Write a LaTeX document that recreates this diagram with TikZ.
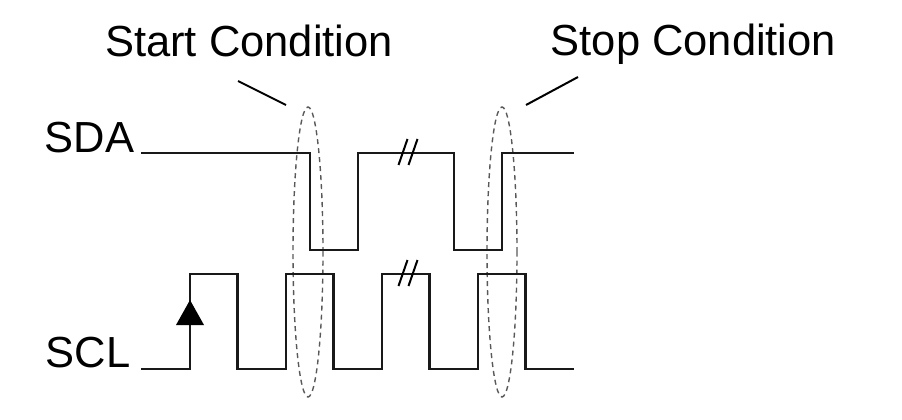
\documentclass[tikz,border=0pt]{standalone}
\usepackage{fontspec}
\setmainfont{Liberation Sans}
\usetikzlibrary{positioning, shapes.geometric, calc}

\begin{document}
\begin{tikzpicture}[x=1pt, y=-1pt, line join=miter,
    wave/.style={line width=2.2pt, black!90},
    cond/.style={ellipse, draw=gray!70!black, dash pattern=on 5pt off 4pt, line width=1.4pt,
      inner sep=0pt, minimum width=30pt, minimum height=290pt},
    lbl/.style={anchor=base west, inner sep=0pt, font=\fontsize{43.5}{50}\selectfont},
    lead/.style={line width=2pt}]
  \useasboundingbox (0,0) rectangle (902,420);
  % text
  \node[lbl] (start) at (105,56.7) {Start Condition};
  \node[lbl] (stop) at (550.5,55.7) {Stop Condition};
  \node[lbl] (sda) at (44.5,152) {SDA};
  \node[lbl] (scl) at (45.5,367) {SCL};
  % conditions
  \node[cond] (startcond) at (308,252) {};
  \node[cond] (stopcond) at (502,252) {};
  \coordinate (startfoot) at (286,105);
  \coordinate (stopfoot) at (526,105);
  \draw[lead] (startfoot) -- ++(-48,-24);
  \draw[lead] (stopfoot) -- ++(52,-28);
  % SDA
  \draw[wave] (141,153) -- (310,153) -- (310,250) -- (358,250) -- (358,153)
    -- (454,153) -- (454,250) -- (502,250) -- (502,153) -- (574,153);
  % SCL
  \draw[wave] (141,369) foreach \x in {190,286,382,478} {
      -- (\x,369) -- (\x,274) -- ++(47.5,0) -- ++(0,95) } -- (574,369);
  \fill (190,300) -- (204,325) -- (176,325) -- cycle;
  % breaks
  \foreach \y in {152,273}
    \foreach \x in {403,413}
      \draw[lead] (\x-4.5,\y+13) -- (\x+4.5,\y-13);
\end{tikzpicture}
\end{document}
